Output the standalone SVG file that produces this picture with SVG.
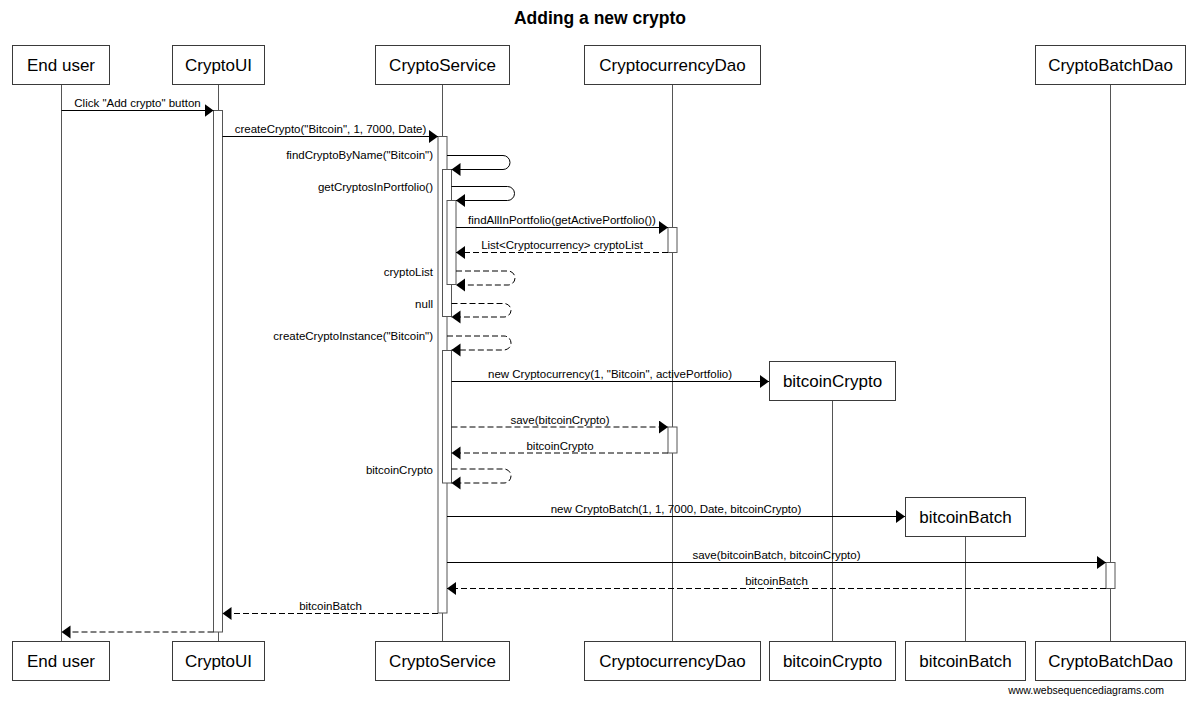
<svg xmlns="http://www.w3.org/2000/svg" width="1200" height="706" viewBox="0 0 1200 706">
<style>
.box{fill:#fff;stroke:#3a3a3a;stroke-width:1}
.life{stroke:#555;stroke-width:1}
.act{fill:#fff;stroke:#555;stroke-width:1}
.pname{font-family:"Liberation Sans",Arial,sans-serif;font-size:17px;text-anchor:middle;fill:#000}
.lbl{font-family:"Liberation Sans",Arial,sans-serif;font-size:11.5px;text-anchor:middle;fill:#000}
.lblr{font-family:"Liberation Sans",Arial,sans-serif;font-size:11.5px;text-anchor:end;fill:#000}
.msg{stroke:#000;stroke-width:1;fill:none;marker-end:url(#ah)}
.ret{stroke:#000;stroke-width:1;fill:none;stroke-dasharray:6,3;marker-end:url(#ah)}
.title{font-family:"Liberation Sans",Arial,sans-serif;font-size:17.5px;font-weight:bold;text-anchor:middle;fill:#000}
.wm{font-family:"Liberation Sans",Arial,sans-serif;font-size:10.5px;text-anchor:end;fill:#000}
</style>
<defs>
<marker id="ah" markerUnits="userSpaceOnUse" markerWidth="10" markerHeight="14" refX="9" refY="6.5" orient="auto">
<path d="M0,0 L9,6.5 L0,13 z" fill="#000" stroke="none"/>
</marker>
</defs>
<rect x="0" y="0" width="1200" height="706" fill="#fff"/>
<text class="title" x="600" y="24">Adding a new crypto</text>

<g id="end-user">
<line class="life" x1="61.5" y1="84" x2="61.5" y2="641"/>
<rect class="box" x="12.5" y="45.5" width="97" height="39"/>
<text class="pname" x="61" y="70.5">End user</text>
<rect class="box" x="12.5" y="641.5" width="97" height="39"/>
<text class="pname" x="61" y="666.5">End user</text>
</g>

<g id="crypto-ui">
<line class="life" x1="218.5" y1="84" x2="218.5" y2="641"/>
<rect class="box" x="172.5" y="45.5" width="92" height="39"/>
<text class="pname" x="218.5" y="70.5">CryptoUI</text>
<rect class="box" x="172.5" y="641.5" width="92" height="39"/>
<text class="pname" x="218.5" y="666.5">CryptoUI</text>
<rect class="act" x="213.5" y="110.5" width="9" height="521.5"/>
</g>

<g id="crypto-service">
<line class="life" x1="442.5" y1="84" x2="442.5" y2="641"/>
<rect class="box" x="375.5" y="45.5" width="134" height="39"/>
<text class="pname" x="442.5" y="70.5">CryptoService</text>
<rect class="box" x="375.5" y="641.5" width="134" height="39"/>
<text class="pname" x="442.5" y="666.5">CryptoService</text>
<rect class="act" x="438" y="136.5" width="9" height="476.5"/>
<rect class="act" x="442.5" y="169.5" width="9" height="147"/>
<rect class="act" x="447" y="200.5" width="9" height="84"/>
<rect class="act" x="442.5" y="350.5" width="9" height="132.5"/>
</g>

<g id="cryptocurrency-dao">
<line class="life" x1="672.5" y1="84" x2="672.5" y2="641"/>
<rect class="box" x="584.5" y="45.5" width="176" height="39"/>
<text class="pname" x="672.5" y="70.5">CryptocurrencyDao</text>
<rect class="box" x="584.5" y="641.5" width="176" height="39"/>
<text class="pname" x="672.5" y="666.5">CryptocurrencyDao</text>
<rect class="act" x="668" y="227.5" width="9" height="25"/>
<rect class="act" x="668" y="427" width="9" height="26"/>
</g>

<g id="bitcoin-crypto">
<line class="life" x1="832.5" y1="401" x2="832.5" y2="641"/>
<rect class="box" x="769.5" y="361.5" width="126" height="39"/>
<text class="pname" x="832.5" y="387">bitcoinCrypto</text>
<rect class="box" x="769.5" y="641.5" width="126" height="39"/>
<text class="pname" x="832.5" y="666.5">bitcoinCrypto</text>
</g>

<g id="bitcoin-batch">
<line class="life" x1="965.5" y1="537" x2="965.5" y2="641"/>
<rect class="box" x="905.5" y="497.5" width="120" height="39"/>
<text class="pname" x="965.5" y="523">bitcoinBatch</text>
<rect class="box" x="905.5" y="641.5" width="120" height="39"/>
<text class="pname" x="965.5" y="666.5">bitcoinBatch</text>
</g>

<g id="crypto-batch-dao">
<line class="life" x1="1110.5" y1="84" x2="1110.5" y2="641"/>
<rect class="box" x="1035.5" y="45.5" width="150" height="39"/>
<text class="pname" x="1110.5" y="70.5">CryptoBatchDao</text>
<rect class="box" x="1035.5" y="641.5" width="150" height="39"/>
<text class="pname" x="1110.5" y="666.5">CryptoBatchDao</text>
<rect class="act" x="1106" y="562.5" width="9" height="26"/>
</g>

<g id="connectors">
<line class="msg" x1="61.5" y1="110.5" x2="213.5" y2="110.5"/>
<text class="lbl" x="137.5" y="107">Click "Add crypto" button</text>

<line class="msg" x1="222.5" y1="136.5" x2="438" y2="136.5"/>
<text class="lbl" x="330.5" y="133">createCrypto("Bitcoin", 1, 7000, Date)</text>

<path class="msg" d="M447,155.5 H503 A7,7 0 0 1 503,169.5 H451.5"/>
<text class="lblr" x="433" y="159">findCryptoByName("Bitcoin")</text>

<path class="msg" d="M451.5,186.5 H507.5 A7,7 0 0 1 507.5,200.5 H456"/>
<text class="lblr" x="433" y="191">getCryptosInPortfolio()</text>

<line class="msg" x1="456" y1="227.5" x2="668" y2="227.5"/>
<text class="lbl" x="562" y="224">findAllInPortfolio(getActivePortfolio())</text>

<line class="ret" x1="668" y1="252.5" x2="456" y2="252.5"/>
<text class="lbl" x="562" y="249">List&lt;Cryptocurrency&gt; cryptoList</text>

<path class="ret" d="M456,271 H508 A7,7 0 0 1 508,285 H456"/>
<text class="lblr" x="433" y="275.5">cryptoList</text>

<path class="ret" d="M451.5,303.5 H504 A7,6.75 0 0 1 504,317 H451.5"/>
<text class="lblr" x="433" y="308">null</text>

<path class="ret" d="M447,336 H504 A7,7 0 0 1 504,350 H451.5"/>
<text class="lblr" x="433" y="340">createCryptoInstance("Bitcoin")</text>

<line class="msg" x1="451.5" y1="381.5" x2="769" y2="381.5"/>
<text class="lbl" x="610" y="378">new Cryptocurrency(1, "Bitcoin", activePortfolio)</text>

<line class="ret" x1="451.5" y1="427" x2="668" y2="427"/>
<text class="lbl" x="560" y="423.5">save(bitcoinCrypto)</text>

<line class="ret" x1="668" y1="453" x2="451.5" y2="453"/>
<text class="lbl" x="560" y="449.5">bitcoinCrypto</text>

<path class="ret" d="M451.5,469 H504 A7,7 0 0 1 504,483 H451.5"/>
<text class="lblr" x="433" y="474">bitcoinCrypto</text>

<line class="msg" x1="447" y1="516.5" x2="905" y2="516.5"/>
<text class="lbl" x="676" y="513">new CryptoBatch(1, 1, 7000, Date, bitcoinCrypto)</text>

<line class="msg" x1="447" y1="562.5" x2="1106" y2="562.5"/>
<text class="lbl" x="776.5" y="559">save(bitcoinBatch, bitcoinCrypto)</text>

<line class="ret" x1="1106" y1="588.5" x2="447" y2="588.5"/>
<text class="lbl" x="776.5" y="585">bitcoinBatch</text>

<line class="ret" x1="438" y1="613.5" x2="222.5" y2="613.5"/>
<text class="lbl" x="330.5" y="610">bitcoinBatch</text>

<line class="ret" x1="213.5" y1="632" x2="61.5" y2="632"/>
</g>

<text class="wm" x="1164" y="694">www.websequencediagrams.com</text>
</svg>
